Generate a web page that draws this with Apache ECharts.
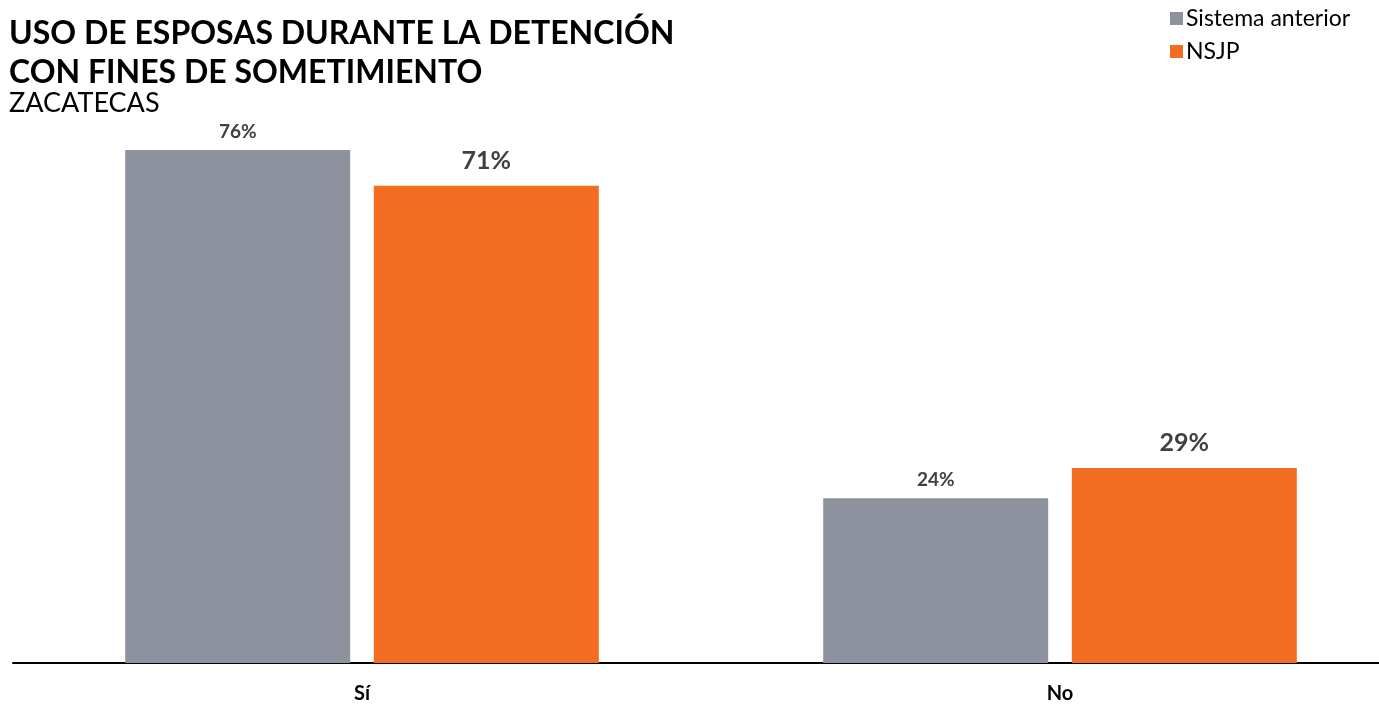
<!DOCTYPE html>
<html><head><meta charset="utf-8">
<script src="https://cdn.jsdelivr.net/npm/echarts@6/dist/echarts.min.js"></script>
<style>html,body{margin:0;padding:0;background:#fff}#c{width:1379px;height:705px}</style>
</head><body><div id="c"></div>
<script>
const categories = ['Sí', 'No'];
const seriesNames = ['Sistema anterior', 'NSJP'];
const sistemaAnterior = [76, 24.4];
const nsjp = [70.7, 28.9];

const chart = echarts.init(document.getElementById('c'));
const F = 'Lato, "Open Sans", sans-serif';
chart.setOption({
  animation: false,
  title: [
    {text: 'USO DE ESPOSAS DURANTE LA DETENCIÓN\nCON FINES DE SOMETIMIENTO', left: 9, top: 14, padding: 0,
     textStyle: {fontFamily: F, fontWeight: 'bold', fontSize: 32, lineHeight: 39, color: '#000'}},
    {text: 'ZACATECAS', left: 9, top: 90, padding: 0,
     textStyle: {fontFamily: F, fontWeight: 'normal', fontSize: 27, color: '#000'}}
  ],
  legend: {
    orient: 'vertical', left: 1165, top: 2, itemWidth: 13, itemHeight: 13, itemGap: 10,
    icon: 'rect',
    textStyle: {fontFamily: F, fontSize: 23, color: '#000', padding: [0,0,0,-2]},
    data: seriesNames
  },
  grid: {left: 13, width: 1396, top: 123, bottom: 42, containLabel: false, outerBoundsMode: 'none'},
  xAxis: {
    type: 'category', data: categories,
    axisLine: {lineStyle: {color: '#000', width: 2}},
    axisTick: {show: false},
    axisLabel: {fontFamily: F, fontWeight: 'bold', fontSize: 20, color: '#000', margin: 21}
  },
  yAxis: {type: 'value', min: 0, max: 80, show: false, splitLine: {show: false}},
  series: [
    {name: seriesNames[0], type: 'bar', data: sistemaAnterior, barWidth: 225, barGap: '10.5%',
     itemStyle: {color: '#8E929E'},
     label: {show: true, position: 'top', distance: 9, formatter: p => Math.round(p.value) + '%',
             fontFamily: F, fontWeight: 'bold', fontSize: 19, color: '#404040'}},
    {name: seriesNames[1], type: 'bar', data: nsjp, barWidth: 225,
     itemStyle: {color: '#F26C22'},
     label: {show: true, position: 'top', distance: 12, formatter: p => Math.round(p.value) + '%',
             fontFamily: F, fontWeight: 'bold', fontSize: 25, color: '#404040'}}
  ]
});
</script></body></html>
